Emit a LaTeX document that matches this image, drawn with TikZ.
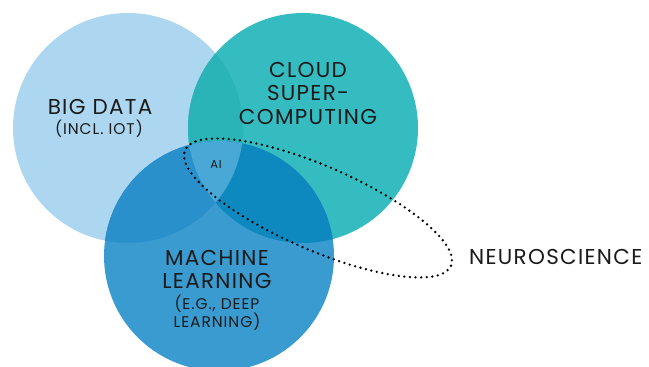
\documentclass[tikz,border=0pt]{standalone}
\usepackage{fontspec}
\setmainfont{Poppins}[LetterSpace=6]
\definecolor{bdcol}{HTML}{ADD7F0}
\definecolor{clcol}{HTML}{34BCC0}
\definecolor{bdclcol}{HTML}{2AB4B8}
\definecolor{mlcol}{HTML}{3A9BD0}
\definecolor{mlbdcol}{HTML}{2990CB}
\definecolor{mlclcol}{HTML}{0E89C0}
\definecolor{aicol}{HTML}{4AA8D7}
\definecolor{txtcol}{HTML}{1A1A1A}
\tikzset{
  biglabel/.style={text=txtcol, font=\fontsize{21.5}{23.5}\selectfont, align=center, inner sep=0pt},
  smalllabel/.style={text=txtcol, font=\fontsize{15.5}{18}\selectfont, align=center, inner sep=0pt},
  ailabel/.style={text=txtcol, font=\fontsize{11.5}{13}\selectfont, inner sep=0pt},
  dotline/.style={line width=2.6pt, line cap=round, dash pattern=on 0pt off 5.6pt, black}
}
\begin{document}
\begin{tikzpicture}[x=1pt,y=-1pt]
\useasboundingbox (0,0) rectangle (649,367);
\def\bdpath{(128,128) circle[radius=115]}
\def\clpath{(303,128) circle[radius=115]}
\def\mlpath{(219,256) circle[radius=115]}
% base circles
\fill[bdcol] \bdpath;
\fill[clcol] \clpath;
\begin{scope}
  \clip \bdpath;
  \fill[bdclcol] \clpath;
\end{scope}
\fill[mlcol] \mlpath;
\begin{scope}
  \clip \mlpath;
  \fill[mlbdcol] \bdpath;
\end{scope}
\begin{scope}
  \clip \mlpath;
  \fill[mlclcol] \clpath;
\end{scope}
\begin{scope}
  \clip \mlpath;
  \clip \bdpath;
  \fill[aicol] \clpath;
\end{scope}
% dotted ellipse (neuroscience)
\coordinate (ec) at (318,208);
\draw[dotline, rotate around={-23.5:(ec)}] (ec) ellipse[x radius=145, y radius=42];
% labels
\node[biglabel] (bigdata) at (100,107) {BIG DATA};
\node[smalllabel] (incl) at (99,129) {(INCL. IOT)};
\node[biglabel] (cloud) at (308,93) {CLOUD\\SUPER-\\COMPUTING};
\node[ailabel] (ai) at (216,164) {AI};
\node[biglabel] (ml) at (217,269.5) {MACHINE\\LEARNING};
\node[smalllabel] (eg) at (217,313) {(E.G., DEEP\\LEARNING)};
\node[biglabel, anchor=west] (neuro) at (469,257) {NEUROSCIENCE};
\end{tikzpicture}
\end{document}
